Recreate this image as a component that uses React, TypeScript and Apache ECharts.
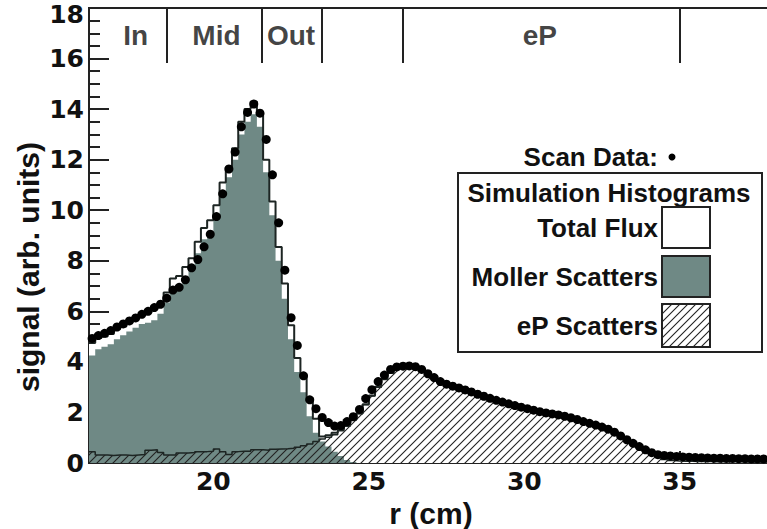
import React, { useEffect, useRef } from 'react';
import * as echarts from 'echarts';

// Histogram binning (bin edges start at BIN_START, width BIN_WIDTH)
const BIN_START = 16;
const BIN_WIDTH = 0.2;

// Simulation histograms (one value per 0.2 cm bin, 16.0 .. 38.0 cm)
const totalFlux = [
  4.75, 4.95, 5.0, 5.1, 5.3, 5.4, 5.55, 5.7, 5.85, 5.95,
  6.1, 6.3, 6.75, 7.3, 7.4, 7.75, 8.1, 8.75, 9.3, 9.6,
  10.2, 11.1, 11.7, 12.45, 13.5, 14.0, 14.3, 13.85, 12.0, 10.35,
  8.55, 7.1, 5.45, 4.15, 3.45, 2.45, 1.75, 1.05, 1.1, 1.2,
  1.35, 1.5, 1.72, 1.97, 2.32, 2.67, 3.02, 3.32, 3.57, 3.74,
  3.82, 3.84, 3.8, 3.74, 3.6, 3.44, 3.24, 3.14, 3.06, 2.98,
  2.9, 2.82, 2.74, 2.66, 2.58, 2.5, 2.42, 2.35, 2.28, 2.22,
  2.16, 2.1, 2.04, 1.98, 1.94, 1.9, 1.86, 1.8, 1.74, 1.66,
  1.58, 1.52, 1.44, 1.36, 1.26, 1.1, 0.94, 0.78, 0.64, 0.5,
  0.38, 0.28, 0.22, 0.2, 0.2, 0.19, 0.18, 0.18, 0.16, 0.15,
  0.14, 0.13, 0.12, 0.12, 0.11, 0.11, 0.1, 0.1, 0.1, 0.1,
];

const mollerScatters = [
  4.25, 4.5, 4.6, 4.7, 4.9, 5.05, 5.2, 5.35, 5.5, 5.55,
  5.65, 5.9, 6.35, 6.9, 7.0, 7.35, 7.65, 8.3, 8.85, 9.15,
  9.7, 10.6, 11.3, 12.0, 13.0, 13.5, 13.8, 13.3, 11.5, 9.8,
  8.0, 6.5, 4.9, 3.6, 2.8, 1.85, 1.2, 0.85, 0.65, 0.45,
  0.28, 0.12, 0.04, 0, 0, 0, 0, 0, 0, 0,
  0, 0, 0, 0, 0, 0, 0, 0, 0, 0,
  0, 0, 0, 0, 0, 0, 0, 0, 0, 0,
  0, 0, 0, 0, 0, 0, 0, 0, 0, 0,
  0, 0, 0, 0, 0, 0, 0, 0, 0, 0,
  0, 0, 0, 0, 0, 0, 0, 0, 0, 0,
  0, 0, 0, 0, 0, 0, 0, 0, 0, 0,
];

const epScatters = [
  0.45, 0.32, 0.32, 0.3, 0.32, 0.32, 0.3, 0.32, 0.34, 0.5,
  0.52, 0.42, 0.32, 0.32, 0.4, 0.4, 0.42, 0.45, 0.45, 0.46,
  0.55, 0.45, 0.34, 0.45, 0.46, 0.46, 0.52, 0.52, 0.5, 0.54,
  0.55, 0.56, 0.58, 0.62, 0.68, 0.75, 0.85, 0.95, 1.02, 1.12,
  1.28, 1.45, 1.7, 1.95, 2.3, 2.65, 3.0, 3.3, 3.55, 3.72,
  3.8, 3.82, 3.78, 3.72, 3.58, 3.42, 3.22, 3.12, 3.04, 2.96,
  2.88, 2.8, 2.72, 2.64, 2.56, 2.48, 2.4, 2.33, 2.26, 2.2,
  2.14, 2.08, 2.02, 1.96, 1.92, 1.88, 1.84, 1.78, 1.72, 1.64,
  1.56, 1.5, 1.42, 1.34, 1.24, 1.08, 0.92, 0.76, 0.62, 0.48,
  0.34, 0.22, 0.14, 0.1, 0.08, 0.07, 0.07, 0.06, 0.06, 0.06,
  0.05, 0.05, 0.05, 0.05, 0.05, 0.04, 0.04, 0.04, 0.04, 0.04,
];

// Scan data, one point per bin centre (16.1, 16.3, ... 37.9 cm)
const scanData = [
  4.93, 5.04, 5.13, 5.24, 5.38, 5.5, 5.62, 5.74, 5.88, 6.0,
  6.15, 6.28, 6.52, 6.84, 6.95, 7.25, 7.72, 8.05, 8.55, 9.05,
  9.75, 10.65, 11.63, 12.3, 13.3, 13.87, 14.2, 13.84, 12.8, 11.4,
  9.5, 7.63, 5.75, 4.65, 3.45, 2.5, 2.15, 1.8, 1.6, 1.46,
  1.48, 1.64, 1.83, 2.12, 2.55, 2.9, 3.22, 3.48, 3.7, 3.8,
  3.83, 3.84, 3.81, 3.7, 3.53, 3.38, 3.22, 3.12, 3.04, 2.97,
  2.89, 2.81, 2.72, 2.64, 2.56, 2.48, 2.41, 2.34, 2.27, 2.21,
  2.15, 2.09, 2.03, 1.98, 1.94, 1.9, 1.85, 1.79, 1.72, 1.64,
  1.57, 1.5, 1.42, 1.34, 1.22, 1.07, 0.92, 0.78, 0.65, 0.52,
  0.41, 0.33, 0.3, 0.28, 0.26, 0.24, 0.23, 0.22, 0.21, 0.2,
  0.19, 0.19, 0.18, 0.18, 0.17, 0.17, 0.16, 0.16, 0.16, 0.15,
];

const xTickValues = [20, 25, 30, 35];
const regionEdges = [18.5, 21.55, 23.5, 26.1, 35.0];
const regionNames = ['In', 'Mid', 'Out', 'eP'];
const regionCenters = [17.5, 20.1, 22.5, 30.5];
const REGION_LINE_TOP = 18;
const REGION_LINE_BOTTOM = 15.82;
const REGION_LABEL_Y = 16.93;

const DARK = '#1d2523';
const GREY = '#6f8985';
const SANS = '"Liberation Sans", Arial, Helvetica, sans-serif';

function toEdges(vals: number[]) {
  const pts = vals.map((v, i) => [BIN_START + i * BIN_WIDTH, v]);
  pts.push([BIN_START + vals.length * BIN_WIDTH, vals[vals.length - 1]]);
  return pts;
}

function makeHatch(): any {
  const c = document.createElement('canvas');
  c.width = 8;
  c.height = 8;
  const ctx = c.getContext('2d');
  if (ctx) {
    ctx.strokeStyle = '#222';
    ctx.lineWidth = 1.1;
    ctx.beginPath();
    ctx.moveTo(0, 8);
    ctx.lineTo(8, 0);
    ctx.moveTo(-1, 1);
    ctx.lineTo(1, -1);
    ctx.moveTo(7, 9);
    ctx.lineTo(9, 7);
    ctx.stroke();
  }
  return { image: c.toDataURL(), repeat: 'repeat', imageWidth: 8, imageHeight: 8 };
}

export default function App() {
  const ref = useRef<HTMLDivElement>(null);

  useEffect(() => {
    if (!ref.current) return;
    const chart = echarts.init(ref.current, undefined, { renderer: 'svg' });
    const hatch = makeHatch();
    const tickFont = { fontFamily: 'DejaVu Sans', fontWeight: 'bold', fontSize: 25, color: '#111' };
    const legendFont = `bold 26px ${SANS}`;

    const option: any = {
      animation: false,
      backgroundColor: '#ffffff',
      grid: {
        left: 89, right: -6, top: 8, bottom: 66,
        outerBoundsMode: 'none', containLabel: false,
        show: true, borderColor: '#222', borderWidth: 2, backgroundColor: 'transparent',
      },
      xAxis: {
        type: 'value', min: 16, max: 38,
        axisLine: { show: true, onZero: false, lineStyle: { color: '#222', width: 2 } },
        axisTick: { show: true, inside: true, length: 12, customValues: xTickValues, lineStyle: { color: '#222', width: 2 } },
        axisLabel: { show: true, customValues: xTickValues, margin: 6, ...tickFont },
        splitLine: { show: false },
        name: 'r (cm)', nameLocation: 'middle', nameGap: 34,
        nameTextStyle: { fontFamily: SANS, fontWeight: 'bold', fontSize: 30, color: '#111' },
      },
      yAxis: {
        type: 'value', min: 0, max: 18, interval: 2,
        axisLine: { show: true, lineStyle: { color: '#222', width: 2 } },
        axisTick: { show: true, inside: true, length: 20, lineStyle: { color: '#222', width: 2 } },
        minorTick: { show: true, splitNumber: 4, length: 11, lineStyle: { color: '#222', width: 2 } },
        axisLabel: {
          show: true, margin: 5, ...tickFont,
          formatter: (v: number) => (v === 18 ? '{top|18}' : String(v)),
          rich: { top: { ...tickFont, lineHeight: 6, padding: [12, 0, 0, 0] } },
        },
        splitLine: { show: false },
        minorSplitLine: { show: false },
      },
      series: [
        {
          name: 'Total Flux fill', type: 'line', step: 'end', data: toEdges(totalFlux),
          showSymbol: false, symbol: 'none', lineStyle: { width: 0, opacity: 0 },
          areaStyle: { color: '#ffffff', opacity: 1 }, z: 1, silent: true,
        },
        {
          name: 'Moller Scatters', type: 'line', step: 'end', data: toEdges(mollerScatters),
          showSymbol: false, symbol: 'none', lineStyle: { width: 0, opacity: 0 },
          areaStyle: { color: GREY, opacity: 1 }, z: 2, silent: true,
        },
        {
          name: 'eP Scatters', type: 'line', step: 'end', data: toEdges(epScatters),
          showSymbol: false, symbol: 'none', lineStyle: { width: 1.5, color: DARK },
          areaStyle: { color: hatch, opacity: 1 }, z: 3, silent: true,
        },
        {
          name: 'Total Flux', type: 'line', step: 'end', data: toEdges(totalFlux),
          showSymbol: false, symbol: 'none', lineStyle: { width: 2, color: DARK }, z: 4, silent: true,
        },
        {
          name: 'Scan Data', type: 'scatter',
          data: scanData.map((v, i) => [BIN_START + (i + 0.5) * BIN_WIDTH, v]),
          symbol: 'circle', symbolSize: 9, itemStyle: { color: '#000', opacity: 1 }, z: 5, silent: true, clip: true,
        },
        {
          name: 'Regions', type: 'scatter',
          data: regionCenters.map((c, i) => ({ value: [c, REGION_LABEL_Y], name: regionNames[i] })),
          symbol: 'circle', symbolSize: 1, itemStyle: { color: 'transparent' }, z: 6, silent: true,
          label: {
            show: true, position: 'inside', formatter: '{b}',
            fontFamily: SANS, fontWeight: 'bold', fontSize: 28, color: '#111',
          },
          markLine: {
            silent: true, symbol: ['none', 'none'], label: { show: false },
            lineStyle: { color: '#222', width: 2, type: 'solid' },
            data: regionEdges.map((e) => [{ coord: [e, REGION_LINE_TOP] }, { coord: [e, REGION_LINE_BOTTOM] }]),
          },
        },
      ],
      graphic: [
        {
          type: 'text', x: 28, y: 267, rotation: Math.PI / 2,
          style: {
            text: 'signal (arb. units)', font: `bold 30px ${SANS}`, fill: '#111',
            textAlign: 'center', textVerticalAlign: 'middle', align: 'center', verticalAlign: 'middle',
          },
        },
        {
          type: 'text', x: 658, y: 157,
          style: { text: 'Scan Data:', font: legendFont, fill: '#111', textAlign: 'right', textVerticalAlign: 'middle', align: 'right', verticalAlign: 'middle' },
        },
        { type: 'circle', shape: { cx: 672, cy: 157, r: 3.5 }, style: { fill: '#000' } },
        { type: 'rect', shape: { x: 458, y: 173, width: 304, height: 179 }, style: { fill: '#fff', stroke: '#222', lineWidth: 2 } },
        {
          type: 'text', x: 609, y: 193,
          style: { text: 'Simulation Histograms', font: legendFont, fill: '#111', textAlign: 'center', textVerticalAlign: 'middle', align: 'center', verticalAlign: 'middle' },
        },
        {
          type: 'text', x: 658, y: 228,
          style: { text: 'Total Flux', font: legendFont, fill: '#111', textAlign: 'right', textVerticalAlign: 'middle', align: 'right', verticalAlign: 'middle' },
        },
        { type: 'rect', shape: { x: 662, y: 207, width: 48, height: 41 }, style: { fill: '#fff', stroke: '#222', lineWidth: 2 } },
        {
          type: 'text', x: 658, y: 277,
          style: { text: 'Moller Scatters', font: legendFont, fill: '#111', textAlign: 'right', textVerticalAlign: 'middle', align: 'right', verticalAlign: 'middle' },
        },
        { type: 'rect', shape: { x: 662, y: 256, width: 48, height: 41 }, style: { fill: GREY, stroke: '#222', lineWidth: 2 } },
        {
          type: 'text', x: 658, y: 326,
          style: { text: 'eP Scatters', font: legendFont, fill: '#111', textAlign: 'right', textVerticalAlign: 'middle', align: 'right', verticalAlign: 'middle' },
        },
        { type: 'rect', shape: { x: 662, y: 304, width: 48, height: 43 }, style: { fill: hatch, stroke: '#222', lineWidth: 2 } },
      ],
    };

    chart.setOption(option);
    return () => chart.dispose();
  }, []);

  return (
    <div
      ref={ref}
      style={{ position: 'absolute', left: 0, top: 0, width: 767, height: 529, background: '#fff' }}
    />
  );
}
